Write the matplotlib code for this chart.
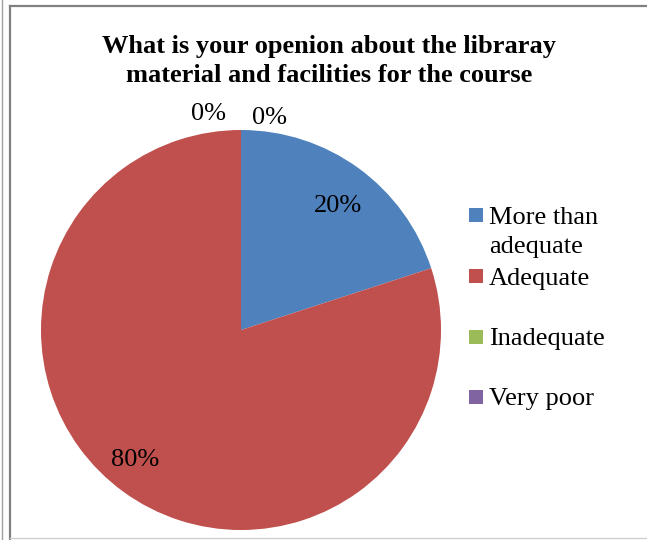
import numpy as np
import matplotlib
matplotlib.use("Agg")
import matplotlib.pyplot as plt
from matplotlib.lines import Line2D
from matplotlib.patches import Rectangle

# data
categories = ["More than\nadequate", "Adequate", "Inadequate", "Very poor"]
values = [20, 80, 0, 0]
colors = ["#4F81BD", "#C0504D", "#9BBB59", "#8064A2"]
title = "What is your openion about the libraray\nmaterial and facilities for the course"

W, H = 647, 540
FS = 19
plt.rcParams['font.family'] = ['Liberation Serif', 'DejaVu Serif']

fig = plt.figure(figsize=(W / 100, H / 100), dpi=100)

## frame lines of the chart box (pixel coords -> figure fraction)
def px_line(x0, y0, x1, y1, color, lw):
    fig.add_artist(Line2D([x0 / W, x1 / W], [1 - y0 / H, 1 - y1 / H],
                          color=color, lw=lw, transform=fig.transFigure))

px_line(1.5, 0, 1.5, H, "#a0a0a0", 1.0)
px_line(9.5, 5.5, 9.5, H, "#808080", 1.6)
px_line(9.5, 5.5, W, 5.5, "#808080", 1.6)
px_line(9.5, 538, W, 538, "#d0d0d0", 1.0)

## pie axes: centre (241, 330), radius 200 px
cx, cy, r = 241, 330, 200
ax = fig.add_axes([(cx - r) / W, 1 - (cy + r) / H, 2 * r / W, 2 * r / H])
wedges, texts, autotexts = ax.pie(
    values, colors=colors, startangle=90, counterclock=False,
    autopct='%1.0f%%', pctdistance=0.8,
    textprops=dict(fontsize=FS, color='black'),
    wedgeprops=dict(linewidth=0))
ax.set_xlim(-1, 1)
ax.set_ylim(-1, 1)
ax.set_aspect('equal')

# small nudges so labels sit where Excel put them
label_nudge = [(0.014, -0.025), (-0.06, -0.003)]
for t, (dx, dy) in zip(autotexts, label_nudge):
    x, y = t.get_position()
    t.set_position((x + dx, y + dy))

# zero slices: Excel puts their labels just outside the top of the pie
zero_idx = [i for i, v in enumerate(values) if v == 0]
for k, i in enumerate(zero_idx):
    autotexts[i].set_position((-0.16 + 0.305 * k, 1.08 - 0.02 * k))

fig.text(329 / W, 1 - 61 / H, title, ha='center', va='center',
         fontsize=FS, fontweight='bold', linespacing=1.33)

## legend drawn by hand to keep Excel's uneven spacing
leg_y = [215, 276, 337, 397]
line_gap = 29
for lab, col, y in zip(categories, colors, leg_y):
    fig.add_artist(Rectangle((469 / W, 1 - (y + 7) / H), 14 / W, 14 / H,
                             color=col, lw=0, transform=fig.transFigure))
    for j, part in enumerate(lab.split('\n')):
        fig.text(489 / W, 1 - (y + j * line_gap) / H, part, ha='left',
                 va='center_baseline', fontsize=FS)

fig.savefig("out.png", dpi=100)
